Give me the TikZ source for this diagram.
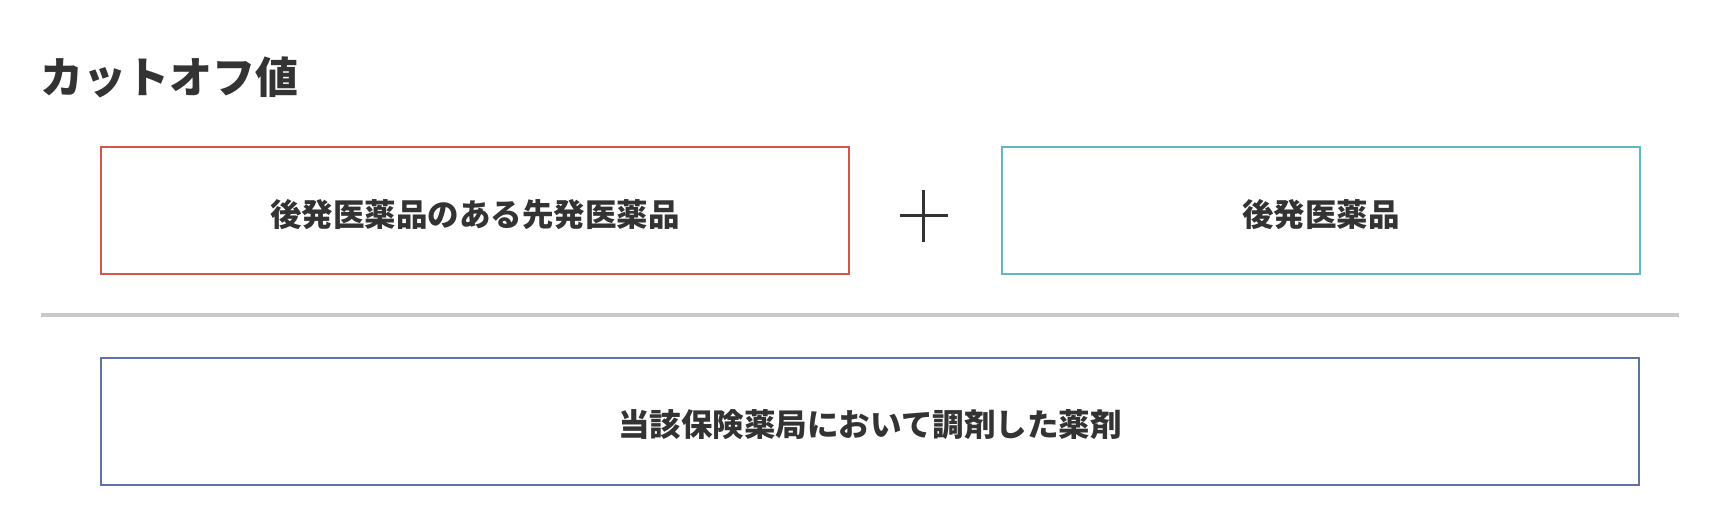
\documentclass[tikz,border=0pt]{standalone}
\usepackage{fontspec}
\newfontfamily\cjk{Noto Sans CJK JP}
\usetikzlibrary{positioning}

\definecolor{textgray}{HTML}{333333}
\definecolor{boxred}{HTML}{D9544B}
\definecolor{boxcyan}{HTML}{5FB8C0}
\definecolor{boxblue}{HTML}{5F72A8}
\definecolor{rulegray}{HTML}{C8C8C8}

\tikzstyle{termbox} = [
    rectangle,
    minimum height=127pt,
    inner sep=0pt,
    text height=33pt,
    text depth=1.6pt,
    text centered,
    line width=2pt,
    fill=white,
    text=textgray,
    font=\cjk\bfseries\fontsize{31.5}{36}\selectfont,
]
\tikzstyle{titlestyle} = [
    anchor=west,
    inner sep=0pt,
    text=textgray,
    font=\cjk\bfseries\fontsize{43}{50}\selectfont,
]
\tikzstyle{plusline} = [
    line width=3pt,
    textgray
]

\begin{document}
\begin{tikzpicture}[x=1pt,y=-1pt]
        \useasboundingbox (0,0) rectangle (1720,526);
        \node (title) [titlestyle] at (40.6,77) {カットオフ値};
        \node (brand) [termbox, draw=boxred, minimum width=748pt] at (475,211) {後発医薬品のある先発医薬品};
        \node (generic) [termbox, draw=boxcyan, minimum width=638pt, right=151pt of brand] {後発医薬品};
        \coordinate (plus) at (923.6,216);
        \draw [plusline] ([xshift=-24pt]plus) -- ([xshift=24pt]plus);
        \draw [plusline] ([yshift=26pt]plus) -- ([yshift=-26pt]plus);
        \coordinate (ruleL) at (40.6,315);
        \coordinate (ruleR) at (1679.4,315);
        \draw [rulegray, line width=3.3pt] (ruleL) -- (ruleR);
        \node (dispensed) [termbox, draw=boxblue, minimum width=1538pt] at (870,421) {当該保険薬局において調剤した薬剤};
    \end{tikzpicture}
\end{document}
